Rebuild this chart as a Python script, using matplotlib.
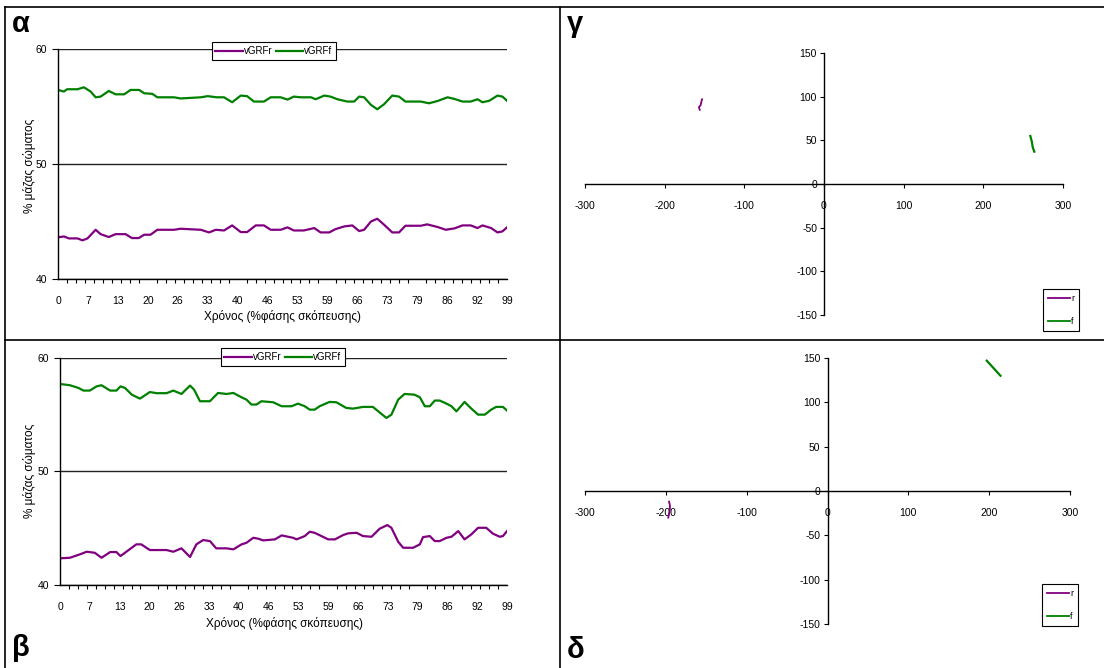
import numpy as np
import matplotlib
matplotlib.use("Agg")
import matplotlib.pyplot as plt
from matplotlib.lines import Line2D

plt.rcParams['font.family'] = ['Liberation Sans', 'DejaVu Sans']
plt.rcParams['axes.unicode_minus'] = False

# --- data ---
# panel alpha: vGRF (% body mass) over time (% of aiming phase)
a_r_x = [0, 1.3, 2.4, 4.3, 5.4, 6.5, 8.3, 9.4, 11.2, 12.7, 14.9, 16.3, 17.8, 19, 20.4, 21.9, 25.6, 27,
         31.5, 33.3, 34.8, 36.6, 38.4, 40.3, 41.7, 43.6, 45.4, 46.9, 49.1, 50.6, 52, 54.2, 56.5, 57.9,
         59.8, 61.2, 63.1, 64.9, 66.4, 67.5, 69, 70.4, 71.9, 73.7, 75.2, 76.6, 80, 81.4, 83.7, 85.5,
         87.4, 89.2, 91, 92.5, 93.6, 95.5, 96.9, 98, 99]
a_r_y = [43.62, 43.7, 43.53, 43.53, 43.36, 43.53, 44.28, 43.9, 43.65, 43.9, 43.9, 43.56, 43.56, 43.85,
         43.85, 44.28, 44.28, 44.37, 44.28, 44.05, 44.28, 44.22, 44.66, 44.08, 44.08, 44.66, 44.66,
         44.28, 44.28, 44.49, 44.22, 44.22, 44.43, 44.05, 44.05, 44.34, 44.57, 44.66, 44.17, 44.28,
         45.0, 45.24, 44.72, 44.05, 44.05, 44.63, 44.63, 44.75, 44.52, 44.28, 44.4, 44.66, 44.66,
         44.43, 44.66, 44.43, 44.05, 44.14, 44.49]
a_f_x = [0, 1.3, 2, 4.3, 5.7, 7.2, 8.3, 9.4, 11.2, 12.7, 14.6, 16, 17.9, 19, 20.8, 21.9, 25.6, 27,
         31.5, 33, 35, 36.6, 38.4, 40.3, 41.7, 43.2, 45.4, 46.9, 49.1, 50.6, 52, 53.5, 55.8, 56.8,
         58.7, 60.1, 61.6, 63.8, 65.3, 66.4, 67.5, 69, 70.4, 71.9, 73.7, 75.2, 76.6, 80, 81.8, 83.7,
         85.9, 87.4, 89.2, 91, 92.5, 93.6, 95.1, 96.9, 98, 99]
a_f_y = [56.44, 56.3, 56.5, 56.5, 56.67, 56.3, 55.8, 55.86, 56.35, 56.06, 56.06, 56.44, 56.44, 56.15,
         56.1, 55.8, 55.8, 55.7, 55.8, 55.9, 55.8, 55.8, 55.37, 55.95, 55.9, 55.43, 55.43, 55.8, 55.8,
         55.6, 55.86, 55.8, 55.8, 55.63, 55.95, 55.86, 55.63, 55.43, 55.43, 55.86, 55.8, 55.14,
         54.76, 55.2, 55.95, 55.86, 55.43, 55.43, 55.28, 55.48, 55.8, 55.66, 55.43, 55.43, 55.63,
         55.37, 55.5, 55.95, 55.86, 55.5]

# panel beta
b_r_x = [0, 2.2, 4.4, 5.9, 7.7, 9.2, 11.1, 12.5, 13.4, 15.1, 16.9, 18, 19.9, 21.4, 23.6, 25.1, 26.9,
         28.8, 30.2, 31.7, 33.2, 34.6, 36.9, 38.4, 40.2, 41.3, 42.8, 43.9, 45, 47.6, 49.1, 51.6, 52.4,
         54.2, 55.3, 56.4, 57.9, 59.4, 60.9, 62.7, 63.8, 65.7, 67.1, 69, 70.8, 72.5, 73.4, 74.9, 76,
         78.2, 79.7, 80.4, 81.9, 83, 84.1, 85.6, 86.7, 88.2, 89.6, 91.1, 92.6, 94.4, 95.9, 97.4, 98.1, 99]
b_r_y = [42.35, 42.4, 42.7, 42.93, 42.84, 42.4, 42.9, 42.9, 42.55, 43.05, 43.58, 43.58, 43.08, 43.08,
         43.08, 42.93, 43.23, 42.47, 43.58, 43.96, 43.87, 43.23, 43.23, 43.14, 43.58, 43.72, 44.16,
         44.08, 43.93, 44.02, 44.37, 44.16, 44.02, 44.31, 44.69, 44.6, 44.31, 44.02, 44.02, 44.4,
         44.55, 44.6, 44.31, 44.25, 44.96, 45.28, 45.04, 43.81, 43.28, 43.28, 43.58, 44.22, 44.31,
         43.87, 43.87, 44.16, 44.25, 44.75, 44.02, 44.46, 45.04, 45.04, 44.52, 44.25, 44.31, 44.75]
b_f_x = [0, 2.2, 4.1, 5.2, 6.6, 8.1, 9.2, 11.1, 12.5, 13.4, 14.4, 15.9, 17.7, 19.9, 21.4, 23.6, 25.1,
         26.9, 28.8, 29.7, 31, 33.2, 35, 36.9, 38.4, 40.2, 41.3, 42.4, 43.5, 44.6, 47.2, 49.1, 51.3,
         52.7, 54.2, 55.3, 56.4, 57.5, 59.7, 61.2, 63.4, 64.9, 67.1, 69.3, 71.2, 72.3, 73.4, 74.9,
         76.3, 78.5, 79.7, 80.8, 81.9, 83, 84.1, 85.6, 86.7, 87.8, 89.6, 91.1, 92.6, 94.1, 95.5, 96.6,
         98.1, 99]
b_f_y = [57.71, 57.6, 57.36, 57.13, 57.13, 57.5, 57.6, 57.13, 57.13, 57.5, 57.36, 56.77, 56.42, 57.0,
         56.9, 56.9, 57.13, 56.83, 57.57, 57.21, 56.19, 56.19, 56.92, 56.83, 56.92, 56.54, 56.33, 55.9,
         55.9, 56.19, 56.1, 55.75, 55.75, 55.98, 55.75, 55.45, 55.45, 55.75, 56.13, 56.1, 55.6, 55.54,
         55.69, 55.69, 55.07, 54.72, 55.01, 56.33, 56.83, 56.77, 56.54, 55.75, 55.75, 56.25, 56.25,
         55.98, 55.75, 55.3, 56.13, 55.54, 55.01, 55.01, 55.45, 55.69, 55.69, 55.37]

# panels gamma / delta: centre-of-pressure paths r and f
g_r_x = [-156, -157, -155, -154, -153]
g_r_y = [85, 88, 90, 94, 97]
g_f_x = [259, 261, 262, 264]
g_f_y = [55, 48, 42, 37]
d_r_x = [-196, -195, -195, -196, -197]
d_r_y = [-12, -16, -21, -26, -30]
d_f_x = [197, 205, 214]
d_f_y = [147, 139, 130]

purple = '#800080'
green = '#008000'
W, H = 1104, 668

fig = plt.figure(figsize=(W / 100, H / 100), dpi=100)


def box(x0, y0, x1, y1):
    return [x0 / W, 1 - y1 / H, (x1 - x0) / W, (y1 - y0) / H]


def time_chart(rect, rx, ry, fx, fy, xlab_xy, ylab_xy, leg_xy):
    ax = fig.add_axes(box(*rect))
    ax.plot(rx, ry, color=purple, lw=1.6, label='vGRFr')
    ax.plot(fx, fy, color=green, lw=1.6, label='vGRFf')
    ax.set_xlim(0, 99)
    ax.set_ylim(40, 60)
    ax.set_yticks([40, 50, 60])
    ax.yaxis.grid(True, color='#222222', lw=1.0)
    ax.set_axisbelow(True)
    ax.set_xticks(np.arange(16) * 6.6)
    ax.set_xticklabels([str(int(round(v))) for v in np.arange(16) * 6.6])
    ax.set_xticks(np.arange(51) * 1.98, minor=True)
    ax.tick_params(axis='x', which='major', length=0, pad=12, labelsize=7.5)
    ax.tick_params(axis='x', which='minor', length=3, width=0.8, direction='out')
    ax.tick_params(axis='y', length=4, width=0.8, pad=4, labelsize=7.5)
    for s in ['top', 'right']:
        ax.spines[s].set_visible(False)
    for s in ['left', 'bottom']:
        ax.spines[s].set_color('black')
        ax.spines[s].set_linewidth(1.0)
    leg = ax.legend(ncol=2, loc='center', bbox_to_anchor=(leg_xy[0] / W, 1 - leg_xy[1] / H),
                    bbox_transform=fig.transFigure, fontsize=7, frameon=True, fancybox=False,
                    framealpha=1, edgecolor='black', handlelength=2.8, handletextpad=0.1,
                    columnspacing=0.4, borderpad=0.4)
    leg.get_frame().set_linewidth(0.8)
    fig.text(xlab_xy[0] / W, 1 - xlab_xy[1] / H, 'Χρόνος (%φάσης σκόπευσης)',
             ha='center', va='center', fontsize=8.5)
    fig.text(ylab_xy[0] / W, 1 - ylab_xy[1] / H, '% μάζας σώματος',
             ha='center', va='center', rotation=90, fontsize=8.5)
    return ax


def cop_chart(rect, rx, ry, fx, fy, leg_xy):
    ax = fig.add_axes(box(*rect))
    ax.plot(rx, ry, color=purple, lw=1.3, label='r')
    ax.plot(fx, fy, color=green, lw=1.6, label='f')
    ax.set_xlim(-300, 300)
    ax.set_ylim(-150, 150)
    ax.set_xticks(np.arange(-300, 301, 100))
    ax.set_yticks(np.arange(-150, 151, 50))
    ax.spines['left'].set_position(('data', 0))
    ax.spines['bottom'].set_position(('data', 0))
    for s in ['top', 'right']:
        ax.spines[s].set_visible(False)
    for s in ['left', 'bottom']:
        ax.spines[s].set_linewidth(1.0)
    ax.tick_params(axis='x', length=3, width=0.8, pad=9, labelsize=7.5)
    ax.tick_params(axis='y', length=3, width=0.8, pad=2, labelsize=7.5)
    leg = ax.legend(loc='center', bbox_to_anchor=(leg_xy[0] / W, 1 - leg_xy[1] / H),
                    bbox_transform=fig.transFigure, fontsize=6.5, frameon=True, fancybox=False,
                    framealpha=1, edgecolor='black', handlelength=2.4, handletextpad=0.15,
                    borderpad=0.6, labelspacing=1.5, borderaxespad=0)
    for ln in leg.get_lines():
        ln.set_linewidth(1.3)
    leg.get_frame().set_linewidth(0.8)
    return ax


time_chart((58, 49, 507, 279), a_r_x, a_r_y, a_f_x, a_f_y, (282, 316), (29, 166), (274, 51))
time_chart((60, 358, 507, 585), b_r_x, b_r_y, b_f_x, b_f_y, (285, 623), (30, 471), (283, 357))
cop_chart((585, 53, 1063, 315), g_r_x, g_r_y, g_f_x, g_f_y, (1061, 310))
cop_chart((585, 358, 1070, 624), d_r_x, d_r_y, d_f_x, d_f_y, (1060, 605))

# panel letters
for txt, x, y in [('α', 12, 24), ('γ', 567, 24), ('β', 12, 648), ('δ', 567, 650)]:
    fig.text(x / W, 1 - y / H, txt, fontsize=21, fontweight='bold', ha='left', va='center')

# frame lines
for xs, ys in [((5, W), (7, 7)), ((5, 5), (7, H)), ((560, 560), (7, H)), ((5, W), (340, 340))]:
    fig.add_artist(Line2D([x / W for x in xs], [1 - y / H for y in ys], color='black', lw=1.2))

fig.savefig('out.png', dpi=100)
